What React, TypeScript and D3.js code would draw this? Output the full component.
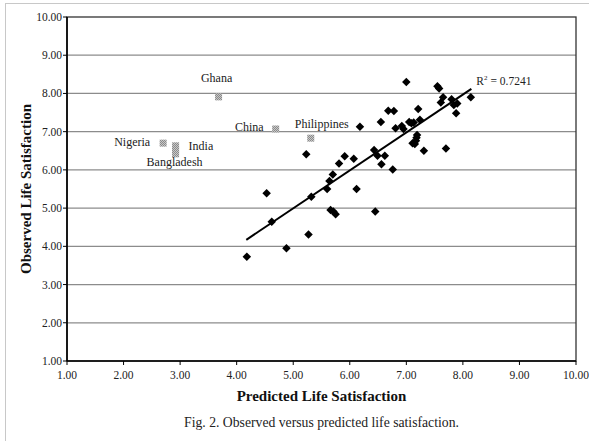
import React from 'react';
import * as d3 from 'd3';

// black diamonds: predicted (x) vs observed (y)
const predicted = [
  4.18, 4.53, 4.62, 4.88, 5.27, 5.32, 5.23, 5.60, 5.64, 5.70, 5.66, 5.71, 5.75,
  5.81, 5.91, 6.07, 6.12, 6.18, 6.43, 6.49, 6.62, 6.56, 6.76, 6.45, 6.55, 6.68,
  6.78, 6.81, 7.00, 7.55, 7.58, 7.65, 7.61, 7.80, 7.90, 7.88, 8.14, 7.21, 7.24,
  7.13, 7.09, 7.05, 6.92, 6.95, 7.19, 7.18, 7.17, 7.11, 7.15, 7.31, 7.70, 7.84,
];
const observed = [
  3.73, 5.39, 4.64, 3.95, 4.31, 5.30, 6.41, 5.50, 5.71, 5.88, 4.95, 4.91, 4.84,
  6.17, 6.36, 6.29, 5.50, 7.13, 6.52, 6.37, 6.37, 6.15, 6.01, 4.91, 7.25, 7.55,
  7.54, 7.09, 8.30, 8.19, 8.13, 7.90, 7.76, 7.85, 7.74, 7.48, 7.90, 7.59, 7.31,
  7.24, 7.22, 7.25, 7.15, 7.07, 6.91, 6.84, 6.76, 6.70, 6.68, 6.50, 6.56, 7.70,
];

// grey squares, the named countries
const countries = ['Ghana', 'China', 'Philippines', 'Nigeria', 'India', '', 'Bangladesh'];
const countryPredicted = [3.68, 4.69, 5.31, 2.70, 2.92, 2.92, 2.92];
const countryObserved = [7.91, 7.07, 6.83, 6.70, 6.63, 6.52, 6.42];

// fitted line
const trendX = [4.17, 8.15];
const trendY = [4.17, 8.12];
const rSquared = '0.7241';

const ticks = [1, 2, 3, 4, 5, 6, 7, 8, 9, 10];

// where each country name sits relative to its square
const labelPos: Record<string, { dx: number; dy: number; anchor: string }> = {
  Ghana: { dx: -2, dy: -15, anchor: 'middle' },
  China: { dx: -12, dy: 2, anchor: 'end' },
  Philippines: { dx: 11, dy: -10, anchor: 'middle' },
  Nigeria: { dx: -13, dy: 3, anchor: 'end' },
  India: { dx: 13, dy: 4, anchor: 'start' },
  Bangladesh: { dx: -1, dy: 12, anchor: 'middle' },
};

const W = 589;
const H = 441;
const margin = { left: 67, right: 13, top: 17, bottom: 80 };
const font = 'Liberation Serif, Times New Roman, serif';

const App: React.FC = () => {
  const x = d3.scaleLinear().domain([1, 10]).range([margin.left, W - margin.right]);
  const y = d3.scaleLinear().domain([1, 10]).range([H - margin.bottom, margin.top]);
  const diamond = d3.symbol().type(d3.symbolDiamond2).size(46)();
  const line = d3.line<number>().x((d) => x(d)).y((_d, i) => y(trendY[i]));

  const x0 = x(1);
  const x1 = x(10);
  const y0 = y(1);
  const y1 = y(10);

  return (
    <svg width={W} height={H} style={{ position: 'absolute', left: 0, top: 0, background: '#fff', fontFamily: font }}>
      <defs>
        <pattern id="hatch" width="2" height="2" patternUnits="userSpaceOnUse">
          <rect width="2" height="2" fill="#c8c8c8" />
          <rect width="1" height="1" fill="#8a8a8a" />
          <rect x="1" y="1" width="1" height="1" fill="#8a8a8a" />
        </pattern>
      </defs>
      <rect x={5.5} y={3.5} width={W} height={H} fill="none" stroke="#c8c8c8" />

      {ticks.slice(1, -1).map((t) => (
        <line key={'g' + t} x1={x0} x2={x1} y1={y(t)} y2={y(t)} stroke="#8c8c8c" strokeWidth={1.3} />
      ))}
      <rect x={x0} y={y1} width={x1 - x0} height={y0 - y1} fill="none" stroke="#333" strokeWidth={1.3} />
      <line x1={x0} x2={x0} y1={y1} y2={y0} stroke="#000" strokeWidth={1.6} />
      <line x1={x0} x2={x1} y1={y0} y2={y0} stroke="#000" strokeWidth={1.6} />

      {ticks.map((t) => (
        <g key={'y' + t}>
          <line x1={x0 - 4} x2={x0} y1={y(t)} y2={y(t)} stroke="#000" />
          <text x={x0 - 5} y={y(t)} dy="0.35em" textAnchor="end" fontSize={11.5} fill="#222">
            {t.toFixed(2)}
          </text>
        </g>
      ))}
      {ticks.map((t) => (
        <g key={'x' + t}>
          <line x1={x(t)} x2={x(t)} y1={y0} y2={y0 + 4} stroke="#000" />
          <text x={x(t)} y={y0 + 18} textAnchor="middle" fontSize={11.5} fill="#222">
            {t.toFixed(2)}
          </text>
        </g>
      ))}

      <text
        transform={`translate(${31},${(y0 + y1) / 2}) rotate(-90)`}
        textAnchor="middle"
        fontSize={15}
        fontWeight="bold"
        fill="#111"
      >
        Observed Life Satisfaction
      </text>
      <text x={(x0 + x1) / 2} y={y0 + 40} textAnchor="middle" fontSize={15} fontWeight="bold" fill="#111">
        Predicted Life Satisfaction
      </text>
      <text x={(x0 + x1) / 2} y={H - 14} textAnchor="middle" fontSize={13.7} fill="#222">
        Fig. 2. Observed versus predicted life satisfaction.
      </text>

      <path d={line(trendX) || ''} fill="none" stroke="#000" strokeWidth={2} />
      <text x={x(trendX[1]) + 5} y={y(trendY[1]) - 4} fontSize={11.5} fill="#222">
        R<tspan dy={-5} fontSize={7}>2</tspan>
        <tspan dy={5}> = {rSquared}</tspan>
      </text>

      {predicted.map((p, i) => (
        <path key={'d' + i} d={diamond} transform={`translate(${x(p)},${y(observed[i])})`} fill="#000" />
      ))}

      {countries.map((c, i) => {
        const cx = x(countryPredicted[i]);
        const cy = y(countryObserved[i]);
        const pos = labelPos[c];
        return (
          <g key={'c' + i}>
            <rect x={cx - 3.5} y={cy - 3.5} width={7} height={7} fill="url(#hatch)" />
            {pos && (
              <text x={cx + pos.dx} y={cy + pos.dy} textAnchor={pos.anchor as any} fontSize={12} fill="#222">
                {c}
              </text>
            )}
          </g>
        );
      })}
    </svg>
  );
};

export default App;
